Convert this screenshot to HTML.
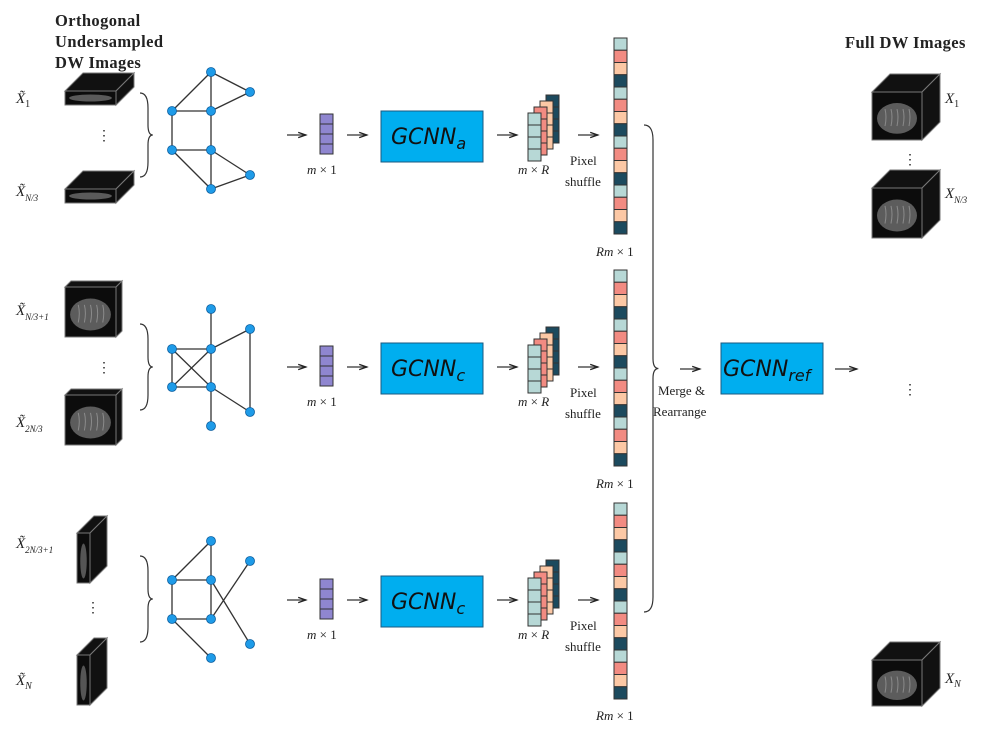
<!DOCTYPE html>
<html><head><meta charset="utf-8"><style>
html,body{margin:0;padding:0;background:#fff;}
svg{display:block;}
text{font-family:"Liberation Serif",serif;fill:#222;}
.it{font-style:italic;}
.b{font-weight:bold;font-size:16.5px;letter-spacing:0.4px;}
.g{font-family:"DejaVu Sans",sans-serif;font-style:italic;font-size:22px;fill:#111;}
</style></head><body>
<svg id="s" width="1004" height="730" viewBox="0 0 1004 730" xmlns="http://www.w3.org/2000/svg">
<defs>
<marker id="ar" markerWidth="7" markerHeight="7" refX="6" refY="3.5" orient="auto"><path d="M0,1.5 L6,3.5 L0,5.5" fill="none" stroke="#222" stroke-width="1"/></marker>
</defs>
<text class="b" x="55" y="26">Orthogonal</text>
<text class="b" x="55" y="47">Undersampled</text>
<text class="b" x="55" y="68">DW Images</text>
<text class="b" x="845" y="48">Full DW Images</text>

<text class="it" x="16" y="103" font-size="15">X̃<tspan font-size="10" dy="4" font-style="normal">1</tspan></text>
<text class="it" x="16" y="196" font-size="15">X̃<tspan font-size="9" dy="5">N/3</tspan></text>
<text class="it" x="16" y="315" font-size="15">X̃<tspan font-size="9" dy="5">N/3+1</tspan></text>
<text class="it" x="16" y="427" font-size="15">X̃<tspan font-size="9" dy="5">2N/3</tspan></text>
<text class="it" x="16" y="548" font-size="15">X̃<tspan font-size="9" dy="5">2N/3+1</tspan></text>
<text class="it" x="16" y="685" font-size="15">X̃<tspan font-size="10" dy="4">N</tspan></text>
<text x="97" y="140" font-size="14">⋮</text>
<text x="97" y="372" font-size="14">⋮</text>
<text x="86" y="612" font-size="14">⋮</text>

<text class="it" x="945" y="103" font-size="15">X<tspan font-size="10" dy="4" font-style="normal">1</tspan></text>
<text class="it" x="945" y="198" font-size="15">X<tspan font-size="9" dy="5">N/3</tspan></text>
<text class="it" x="945" y="683" font-size="15">X<tspan font-size="10" dy="4">N</tspan></text>
<text x="903" y="164" font-size="14">⋮</text>
<text x="903" y="394" font-size="14">⋮</text>

<g id="dyn"></g>

<rect x="381" y="111" width="102" height="51" fill="#00aeef" stroke="#1a5a80" stroke-width="1"/>
<text class="g" x="391" y="144">GCNN<tspan font-size="16" dy="5">a</tspan></text>
<rect x="381" y="343" width="102" height="51" fill="#00aeef" stroke="#1a5a80" stroke-width="1"/>
<text class="g" x="391" y="376">GCNN<tspan font-size="16" dy="5">c</tspan></text>
<rect x="381" y="576" width="102" height="51" fill="#00aeef" stroke="#1a5a80" stroke-width="1"/>
<text class="g" x="391" y="609">GCNN<tspan font-size="16" dy="5">c</tspan></text>
<rect x="721" y="343" width="102" height="51" fill="#00aeef" stroke="#1a5a80" stroke-width="1"/>
<text class="g" x="723" y="376">GCNN<tspan font-size="16" dy="5">ref</tspan></text>

<text class="it" x="307" y="174" font-size="13">m <tspan font-style="normal">× 1</tspan></text>
<text class="it" x="307" y="406" font-size="13">m <tspan font-style="normal">× 1</tspan></text>
<text class="it" x="307" y="639" font-size="13">m <tspan font-style="normal">× 1</tspan></text>
<text class="it" x="518" y="174" font-size="13">m <tspan font-style="normal">×</tspan> R</text>
<text class="it" x="518" y="406" font-size="13">m <tspan font-style="normal">×</tspan> R</text>
<text class="it" x="518" y="639" font-size="13">m <tspan font-style="normal">×</tspan> R</text>
<text x="570" y="165" font-size="13">Pixel</text><text x="565" y="186" font-size="13">shuffle</text>
<text x="570" y="397" font-size="13">Pixel</text><text x="565" y="418" font-size="13">shuffle</text>
<text x="570" y="630" font-size="13">Pixel</text><text x="565" y="651" font-size="13">shuffle</text>
<text class="it" x="596" y="256" font-size="13">Rm <tspan font-style="normal">× 1</tspan></text>
<text class="it" x="596" y="488" font-size="13">Rm <tspan font-style="normal">× 1</tspan></text>
<text class="it" x="596" y="720" font-size="13">Rm <tspan font-style="normal">× 1</tspan></text>
<text x="658" y="395" font-size="13">Merge &amp;</text>
<text x="653" y="416" font-size="13">Rearrange</text>
</svg>
<script>
(function(){
var g=document.getElementById('dyn'),h='';
function L(a,b,c,d,ex){h+='<line x1="'+a+'" y1="'+b+'" x2="'+c+'" y2="'+d+'" stroke="#333" stroke-width="1.3" '+(ex||'')+'/>';}
function R(x,y,w,hh,f,s,sw){h+='<rect x="'+x+'" y="'+y+'" width="'+w+'" height="'+hh+'" fill="'+f+'" stroke="'+(s||'#333')+'" stroke-width="'+(sw||1)+'"/>';}
function C(x,y){h+='<circle cx="'+x+'" cy="'+y+'" r="4.5" fill="#1e9be8" stroke="#0c5fa0" stroke-width="0.8"/>';}
var graphs=[
 {n:[[211,72],[250,92],[172,111],[211,111],[172,150],[211,150],[250,175],[211,189]],e:[[0,1],[0,2],[0,3],[1,3],[2,3],[2,4],[3,5],[4,5],[4,7],[5,6],[5,7],[6,7]]},
 {n:[[211,309],[250,329],[172,349],[211,349],[172,387],[211,387],[250,412],[211,426]],e:[[0,3],[3,1],[1,6],[2,3],[2,4],[2,5],[3,4],[4,5],[3,5],[5,6],[5,7]]},
 {n:[[211,541],[250,561],[172,580],[211,580],[172,619],[211,619],[250,644],[211,658]],e:[[0,2],[0,3],[2,3],[2,4],[3,5],[4,5],[4,7],[3,6],[1,5]]}
];
graphs.forEach(function(G){G.e.forEach(function(e){L(G.n[e[0]][0],G.n[e[0]][1],G.n[e[1]][0],G.n[e[1]][1]);});G.n.forEach(function(p){C(p[0],p[1]);});});
function brace(x,y1,y2,w){var m=(y1+y2)/2;h+='<path d="M'+x+','+y1+' Q'+(x+w)+','+y1+' '+(x+w)+','+(y1+15)+' L'+(x+w)+','+(m-10)+' Q'+(x+w)+','+m+' '+(x+w*1.6)+','+m+' Q'+(x+w)+','+m+' '+(x+w)+','+(m+10)+' L'+(x+w)+','+(y2-15)+' Q'+(x+w)+','+y2+' '+x+','+y2+'" fill="none" stroke="#333" stroke-width="1.2"/>';}
brace(140,93,177,8);brace(140,324,410,8);brace(140,556,642,8);
brace(644,125,612,9);
var offs=[0,232,465],cols=['#b7d8d6','#f28b82','#fcc8a5','#1c4a5e'];
offs.forEach(function(o){
 L(287,135+o,306,135+o,'marker-end="url(#ar)"');
 for(var i=0;i<4;i++)R(320,114+o+i*10,13,10,'#8f86d0','#333');
 L(347,135+o,367,135+o,'marker-end="url(#ar)"');
 L(497,135+o,517,135+o,'marker-end="url(#ar)"');
 for(var k=3;k>=0;k--)for(var i=0;i<4;i++)R(528+k*6,113+o-k*6+i*12,13,12,cols[k],'#333');
 L(578,135+o,598,135+o,'marker-end="url(#ar)"');
 for(var i=0;i<16;i++)R(614,38+o+i*12.25,13,12.25,cols[i%4],'#333');
});
L(680,369,700,369,'marker-end="url(#ar)"');
L(835,369,857,369,'marker-end="url(#ar)"');
function streaks(cx,cy,rx,ry){var s='';for(var i=0;i<5;i++){var x=cx-rx*0.6+i*rx*0.3;s+='<path d="M'+x+','+(cy-ry*0.6)+' q'+(rx*0.1)+','+(ry*0.5)+' 0,'+(ry*1.1)+'" stroke="#aaa" stroke-width="1" fill="none" opacity="0.6"/>';}return s;}
function cube(x,y,w,hh,dx,dy,brain){
 h+='<path d="M'+x+','+y+' L'+(x+dx)+','+(y-dy)+' L'+(x+w+dx)+','+(y-dy)+' L'+(x+w)+','+y+'Z" fill="#111" stroke="#777" stroke-width="1"/>';
 h+='<path d="M'+(x+w)+','+y+' L'+(x+w+dx)+','+(y-dy)+' L'+(x+w+dx)+','+(y+hh-dy)+' L'+(x+w)+','+(y+hh)+'Z" fill="#111" stroke="#777" stroke-width="1"/>';
 R(x,y,w,hh,'#0c0c0c','#777',1);
 if(brain==1){var cx=x+w/2,cy=y+hh*0.55,rx=w*0.4,ry=hh*0.32;h+='<ellipse cx="'+cx+'" cy="'+cy+'" rx="'+rx+'" ry="'+ry+'" fill="#5c5c5c"/>'+streaks(cx,cy,rx,ry);}
 if(brain==2)h+='<ellipse cx="'+(x+w/2)+'" cy="'+(y+hh/2)+'" rx="'+(w*0.42)+'" ry="'+(hh*0.25)+'" fill="#5a5a5a"/>';
 if(brain==3)h+='<ellipse cx="'+(x+w/2)+'" cy="'+(y+hh/2+3)+'" rx="'+(w*0.25)+'" ry="'+(hh*0.35)+'" fill="#555"/>';
}
cube(65,91,51,14,18,18,2);cube(65,189,51,14,18,18,2);
cube(65,287,51,50,6,6,1);cube(65,395,51,50,6,6,1);
cube(77,533,13,50,17,17,3);cube(77,655,13,50,17,17,3);
cube(872,92,50,48,18,18,1);cube(872,188,50,50,18,18,1);cube(872,660,50,46,18,18,1);
g.innerHTML=h;
})();
</script>
</body></html>
